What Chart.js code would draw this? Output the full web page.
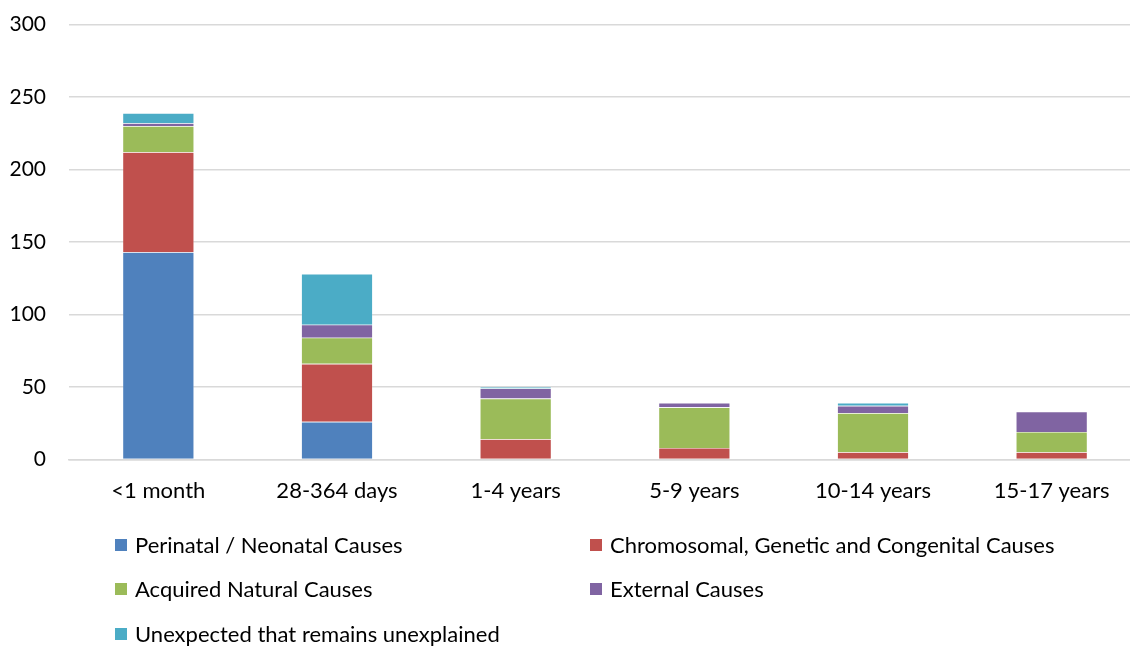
<!DOCTYPE html>
<html>
<head>
<meta charset="utf-8">
<script src="https://cdn.jsdelivr.net/npm/chart.js@4/dist/chart.umd.min.js"></script>
<style>
html, body { margin: 0; padding: 0; background: #fff; overflow: hidden; width: 1130px; height: 646px; }
#wrap { position: absolute; left: 0; top: -11px; width: 1145px; height: 531px; }
#legend { position: absolute; left: 0; top: 0; width: 1130px; height: 646px; pointer-events: none; font-family: Lato, "Open Sans", sans-serif; font-size: 22px; color: #000; }
.item { position: absolute; white-space: nowrap; line-height: 24px; }
.sw { position: absolute; width: 12px; height: 12px; left: 0; top: 6px; }
.tx { position: absolute; left: 20px; top: 0; }
</style>
</head>
<body>
<div id="wrap"><canvas id="c" width="1145" height="531"></canvas></div>
<div id="legend"></div>
<script>
const categories = ["<1 month", "28-364 days", "1-4 years", "5-9 years", "10-14 years", "15-17 years"];
const seriesNames = [
  "Perinatal / Neonatal Causes",
  "Chromosomal, Genetic and Congenital Causes",
  "Acquired Natural Causes",
  "External Causes",
  "Unexpected that remains unexplained"
];
const perinatal   = [143, 26, 0, 0, 0, 0];
const chromosomal = [69, 40, 14, 8, 5, 5];
const acquired    = [18, 18, 28, 28, 27, 14];
const external    = [2, 9, 7, 3, 5, 14];
const unexpected  = [7, 35, 1, 0, 2, 0];
const yTicks = [0, 50, 100, 150, 200, 250, 300];

const colors = ["#4f81bd", "#c0504d", "#9bbb59", "#8064a2", "#4bacc6"];
const values = [perinatal, chromosomal, acquired, external, unexpected];

const FONT = "Lato, 'Open Sans', sans-serif";

const chart = new Chart(document.getElementById('c'), {
  type: 'bar',
  data: {
    labels: categories,
    datasets: seriesNames.map((n, i) => ({
      label: n,
      data: values[i],
      backgroundColor: colors[i],
      borderColor: 'rgba(255,255,255,0.35)',
      borderWidth: 0.6,
      barPercentage: 0.4,
      categoryPercentage: 1.0
    }))
  },
  options: {
    responsive: false,
    animation: false,
    layout: { padding: { top: 12, right: 4, left: 0, bottom: 0 } },
    plugins: { legend: { display: false }, tooltip: { enabled: false } },
    scales: {
      x: {
        stacked: true,
        grid: { display: false, drawTicks: false },
        border: { display: true, color: '#d9d9d9', width: 1.5 },
        ticks: { color: '#000', font: { family: FONT, size: 22 }, padding: 18, maxRotation: 0 },
        afterFit: (s) => { s.height = 60.5; }
      },
      y: {
        stacked: true,
        min: 0, max: 300,
        afterBuildTicks: (s) => { s.ticks = yTicks.map(v => ({ value: v })); },
        grid: { color: '#d9d9d9', lineWidth: 1.5, drawTicks: false },
        border: { display: false },
        ticks: { color: '#000', font: { family: FONT, size: 21 }, padding: 23 },
        afterFit: (s) => { s.width = 69; }
      }
    }
  }
});

const legend = document.getElementById('legend');
const pos = [[115, 533], [590, 533], [115, 577], [590, 577], [115, 622]];
chart.data.datasets.forEach((d, i) => {
  const it = document.createElement('div');
  it.className = 'item';
  it.style.left = pos[i][0] + 'px';
  it.style.top = pos[i][1] + 'px';
  const sw = document.createElement('div');
  sw.className = 'sw';
  sw.style.background = d.backgroundColor;
  const tx = document.createElement('div');
  tx.className = 'tx';
  tx.textContent = d.label;
  it.appendChild(sw); it.appendChild(tx);
  legend.appendChild(it);
});
</script>
</body>
</html>
